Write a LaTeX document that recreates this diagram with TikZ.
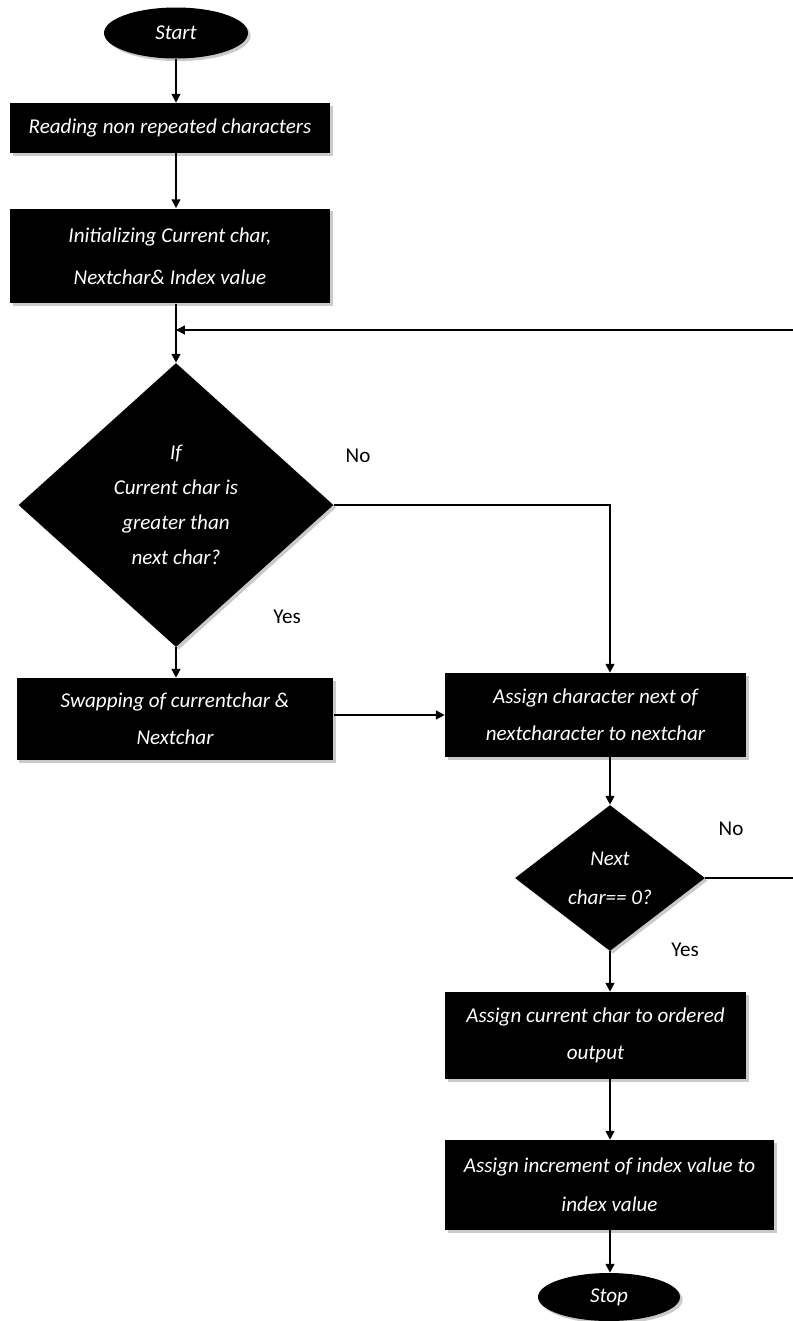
\documentclass[tikz,border=0pt]{standalone}
\usepackage{fontspec}
\newfontfamily\flowfont{Carlito}
\usetikzlibrary{shapes.geometric,arrows.meta,shadows,calc}
\begin{document}
\begin{tikzpicture}[x=0.02cm,y=-0.02cm,
  every node/.style={font=\flowfont},
  shd/.style={drop shadow={shadow xshift=1.5pt,shadow yshift=-1.5pt,opacity=0.35,fill=black!60}},
  proc/.style={rectangle,fill=black,text=white,inner sep=0pt,align=center,shd,
    font=\flowfont\itshape\fontsize{12pt}{21pt}\selectfont},
  term/.style={ellipse,fill=black,text=white,inner sep=0pt,align=center,shd,
    font=\flowfont\itshape\fontsize{12pt}{14pt}\selectfont},
  decis/.style={diamond,fill=black,text=white,inner sep=0pt,align=center,shd,
    font=\flowfont\itshape\fontsize{12pt}{20pt}\selectfont},
  lbl/.style={font=\flowfont\fontsize{12pt}{14pt}\selectfont,text=black},
  conn/.style={line width=1pt,draw=black},
  arr/.style={conn,-{Triangle[length=5pt,width=5pt]}}]
\useasboundingbox (0,0) rectangle (792,1321);

\node[term,minimum width=2.88cm,minimum height=1.02cm] (start) at (176,33) {Start};
\node[proc,minimum width=6.4cm,minimum height=1.0cm] (b1) at (170,128) {Reading non repeated characters};
\node[proc,minimum width=6.4cm,minimum height=1.9cm,font=\flowfont\itshape\fontsize{12pt}{24pt}\selectfont] (b2) at (170,256) {Initializing Current char,\\Nextchar\& Index value};
\node[decis,minimum width=6.3cm,minimum height=5.68cm] (d1) at (176,505) {If\\Current char is\\greater than\\next char?};
\node[proc,minimum width=6.34cm,minimum height=1.64cm] (b3) at (175,719) {Swapping of currentchar \&\\Nextchar};
\node[proc,minimum width=6.02cm,minimum height=1.68cm] (a1) at (595.5,715) {Assign character next of\\nextcharacter to nextchar};
\node[decis,minimum width=3.8cm,minimum height=2.92cm,font=\flowfont\itshape\fontsize{12pt}{22pt}\selectfont] (d2) at (610,878) {Next\\char== 0?};
\node[proc,minimum width=6.02cm,minimum height=1.74cm] (a2) at (595.5,1035.5) {Assign current char to ordered\\output};
\node[proc,minimum width=6.58cm,minimum height=1.8cm,font=\flowfont\itshape\fontsize{12pt}{22pt}\selectfont] (a3) at (609.5,1185) {Assign increment of index value to\\index value};
\node[term,minimum width=2.84cm,minimum height=0.96cm] (stop) at (609,1297) {Stop};

\node[lbl] (no1) at (358,456) {No};
\node[lbl] (yes1) at (287,617) {Yes};
\node[lbl] (no2) at (731,829) {No};
\node[lbl] (yes2) at (685,950) {Yes};

\coordinate (r1) at (796,878);
\coordinate (r2) at (796,330);
\coordinate (j) at (176,330);

\draw[arr] (start.south) -- (start.south |- b1.north);
\draw[arr] (start.south |- b1.south) -- (start.south |- b2.north);
\draw[arr] (start.south |- b2.south) -- (d1.north);
\draw[arr] (d1.south) -- (d1.south |- b3.north);
\draw[arr] (d1.east) -| (d2.north |- a1.north);
\draw[arr] (b3.east |- a1.west) -- (a1.west);
\draw[arr] (d2.north |- a1.south) -- (d2.north);
\draw[arr] (d2.south) -- (d2.south |- a2.north);
\draw[arr] (d2.south |- a2.south) -- (d2.south |- a3.north);
\draw[arr] (d2.south |- a3.south) -- (d2.south |- stop.north);
\draw[conn] (d2.east) -- (r1) -- (r2) -- (j);
\draw[arr] (r2) -- (j);
\end{tikzpicture}
\end{document}
